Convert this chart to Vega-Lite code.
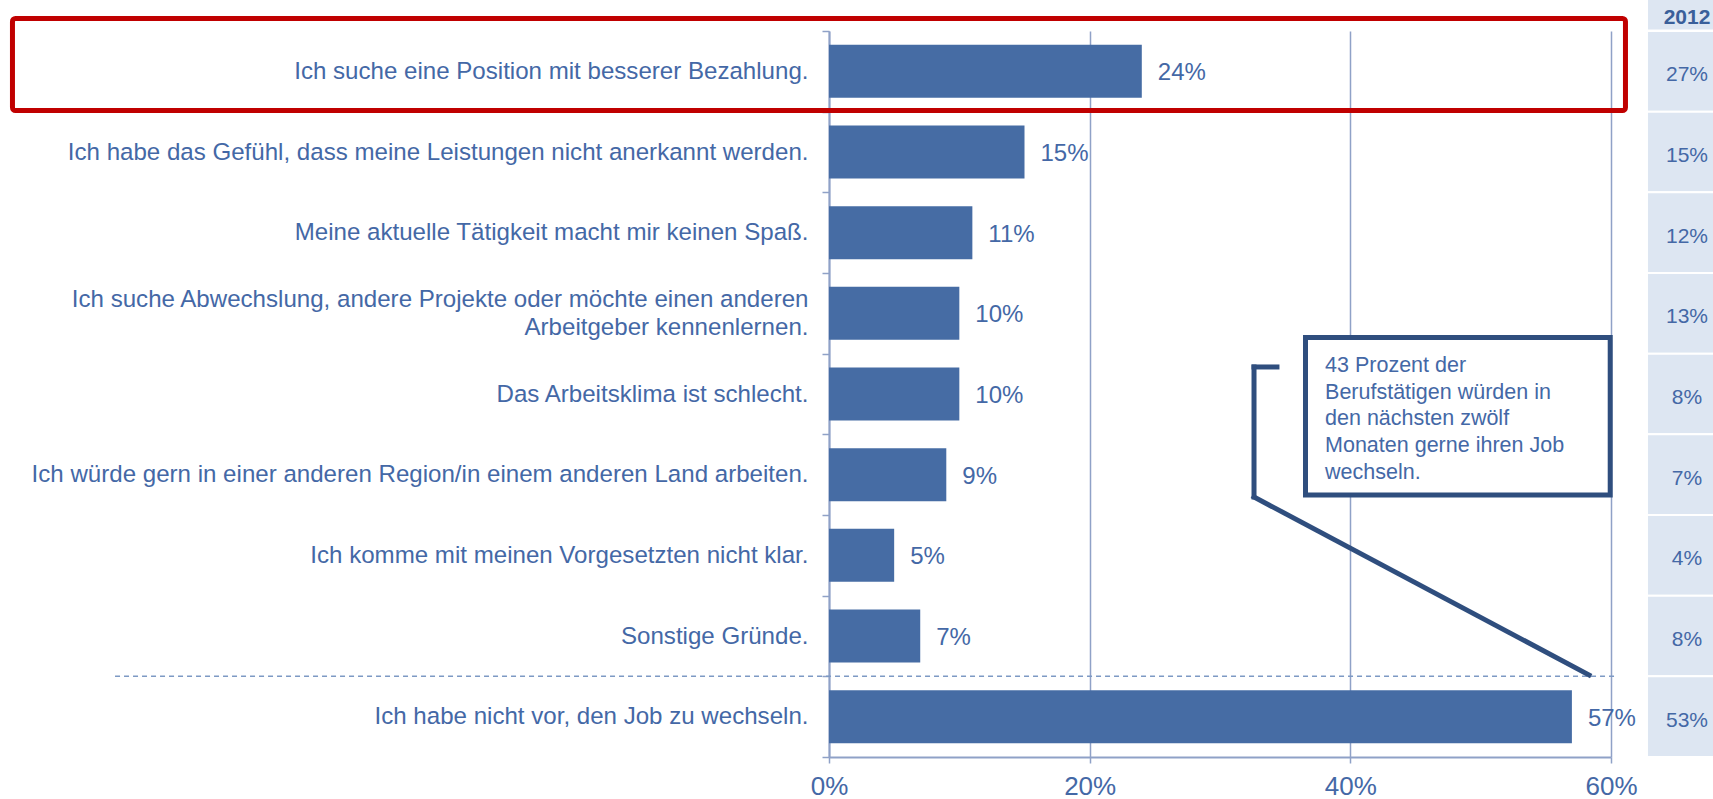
{
  "$schema": "https://vega.github.io/schema/vega-lite/v6.json",
  "width": 782,
  "height": 726,
  "autosize": {"type": "none"},
  "padding": {"left": 829, "top": 31, "right": 102, "bottom": 42},
  "background": "white",
  "config": {"view": {"stroke": null}, "font": "Liberation Sans"},
  "data": {
    "values": [
      {"reason": "Ich suche eine Position mit besserer Bezahlung.", "share": 24, "share2012": 27},
      {"reason": "Ich habe das Gefühl, dass meine Leistungen nicht anerkannt werden.", "share": 15, "share2012": 15},
      {"reason": "Meine aktuelle Tätigkeit macht mir keinen Spaß.", "share": 11, "share2012": 12},
      {"reason": "Ich suche Abwechslung, andere Projekte oder möchte einen anderen Arbeitgeber kennenlernen.", "share": 10, "share2012": 13},
      {"reason": "Das Arbeitsklima ist schlecht.", "share": 10, "share2012": 8},
      {"reason": "Ich würde gern in einer anderen Region/in einem anderen Land arbeiten.", "share": 9, "share2012": 7},
      {"reason": "Ich komme mit meinen Vorgesetzten nicht klar.", "share": 5, "share2012": 4},
      {"reason": "Sonstige Gründe.", "share": 7, "share2012": 8},
      {"reason": "Ich habe nicht vor, den Job zu wechseln.", "share": 57, "share2012": 53}
    ]
  },
  "layer": [
    {
      "encoding": {
        "y": {
          "field": "reason",
          "type": "nominal",
          "sort": null,
          "scale": {"paddingInner": 0, "paddingOuter": 0},
          "axis": {
            "title": null,
            "domainColor": "#8fa1c7",
            "domainWidth": 2,
            "ticks": true,
            "tickBand": "extent",
            "tickSize": 7,
            "tickColor": "#8fa1c7",
            "tickWidth": 1.5,
            "labelPadding": 14,
            "labelFontSize": 24.1,
            "labelColor": "#4468a6",
            "labelLimit": 1000,
            "labelLineHeight": 28,
            "labelOffset": {"condition": {"test": "isString(datum.value) && indexof(datum.value, 'Abwechslung') >= 0", "value": -14}, "value": 0},
            "labelExpr": "isString(datum.value) ? split(replace(datum.value, 'anderen Arbeitgeber', 'anderen|Arbeitgeber'), '|') : ''",
            "grid": false
          }
        }
      },
      "layer": [
        {
          "mark": {"type": "bar", "color": "#466ca4", "height": {"band": 0.657}},
          "encoding": {
            "x": {
              "field": "share",
              "type": "quantitative",
              "scale": {"domain": [0, 60], "nice": false},
              "axis": {
                "title": null,
                "values": [0, 20, 40, 60],
                "labelExpr": "datum.value + '%'",
                "labelFontSize": 26,
                "labelColor": "#4468a6",
                "labelPadding": 10,
                "labelFlush": false,
                "tickSize": 6,
                "tickColor": "#8fa1c7",
                "tickWidth": 1.5,
                "domainColor": "#8fa1c7",
                "domainWidth": 2,
                "grid": true,
                "gridColor": "#8fa1c7",
                "gridWidth": 1.5
              }
            }
          }
        },
        {
          "mark": {"type": "text", "align": "left", "baseline": "middle", "dx": 16, "dy": 2, "fontSize": 24, "color": "#4468a6", "text": {"expr": "datum.share + '%'"}},
          "encoding": {
            "x": {"field": "share", "type": "quantitative", "scale": {"domain": [0, 60], "nice": false}}
          }
        },
        {
          "mark": {"type": "rect", "color": "#dde6f2", "stroke": "white", "strokeWidth": 2, "clip": false},
          "encoding": {
            "x": {"datum": 62.76, "type": "quantitative", "scale": {"domain": [0, 60], "nice": false}},
            "x2": {"datum": 70}
          }
        },
        {
          "mark": {"type": "text", "align": "center", "baseline": "middle", "dy": 4, "fontSize": 21, "color": "#4468a6", "text": {"expr": "datum.share2012 + '%'"}},
          "encoding": {
            "x": {"datum": 65.83, "type": "quantitative", "scale": {"domain": [0, 60], "nice": false}}
          }
        }
      ]
    },
    {
      "data": {
        "values": [
          {"year": "2012", "callout": ["43 Prozent der", "Berufstätigen würden in", "den nächsten zwölf", "Monaten gerne ihren Job", "wechseln."]}
        ]
      },
      "layer": [
        {
          "mark": {"type": "rect", "color": "#dde6f2"},
          "encoding": {
            "x": {"datum": 62.84, "type": "quantitative", "scale": {"domain": [0, 60], "nice": false}},
            "x2": {"datum": 70},
            "y": {"datum": -0.4, "type": "quantitative", "scale": {"domain": [0, 9], "reverse": true, "nice": false, "zero": false}, "axis": null},
            "y2": {"datum": -0.0186}
          }
        },
        {
          "mark": {"type": "text", "align": "center", "baseline": "middle", "fontSize": 21, "fontWeight": "bold", "color": "#3a5f9a"},
          "encoding": {
            "text": {"field": "year"},
            "x": {"datum": 65.83, "type": "quantitative", "scale": {"domain": [0, 60], "nice": false}},
            "y": {"datum": -0.161, "type": "quantitative", "scale": {"domain": [0, 9], "reverse": true, "nice": false, "zero": false}, "axis": null}
          }
        },
        {
          "mark": {"type": "rule", "color": "#7d99c4", "strokeWidth": 1.5, "strokeDash": [5, 4]},
          "encoding": {
            "x": {"datum": -54.78, "type": "quantitative", "scale": {"domain": [0, 60], "nice": false}},
            "x2": {"datum": 60.54},
            "y": {"datum": 8, "type": "quantitative", "scale": {"domain": [0, 9], "reverse": true, "nice": false, "zero": false}, "axis": null}
          }
        },
        {
          "mark": {"type": "rule", "color": "#2f4e7e", "strokeWidth": 5, "strokeCap": "square"},
          "encoding": {
            "x": {"datum": 32.61, "type": "quantitative", "scale": {"domain": [0, 60], "nice": false}},
            "x2": {"datum": 34.37},
            "y": {"datum": 4.165, "type": "quantitative", "scale": {"domain": [0, 9], "reverse": true, "nice": false, "zero": false}, "axis": null},
            "y2": {"datum": 4.165}
          }
        },
        {
          "mark": {"type": "rule", "color": "#2f4e7e", "strokeWidth": 5, "strokeCap": "square"},
          "encoding": {
            "x": {"datum": 32.61, "type": "quantitative", "scale": {"domain": [0, 60], "nice": false}},
            "x2": {"datum": 32.61},
            "y": {"datum": 4.165, "type": "quantitative", "scale": {"domain": [0, 9], "reverse": true, "nice": false, "zero": false}, "axis": null},
            "y2": {"datum": 5.777}
          }
        },
        {
          "mark": {"type": "rule", "color": "#2f4e7e", "strokeWidth": 5, "strokeCap": "square"},
          "encoding": {
            "x": {"datum": 32.61, "type": "quantitative", "scale": {"domain": [0, 60], "nice": false}},
            "x2": {"datum": 58.31},
            "y": {"datum": 5.777, "type": "quantitative", "scale": {"domain": [0, 9], "reverse": true, "nice": false, "zero": false}, "axis": null},
            "y2": {"datum": 7.983}
          }
        },
        {
          "mark": {"type": "rect", "fill": "white", "stroke": "#2f4e7e", "strokeWidth": 5},
          "encoding": {
            "x": {"datum": 36.56, "type": "quantitative", "scale": {"domain": [0, 60], "nice": false}},
            "x2": {"datum": 59.94},
            "y": {"datum": 3.799, "type": "quantitative", "scale": {"domain": [0, 9], "reverse": true, "nice": false, "zero": false}, "axis": null},
            "y2": {"datum": 5.752}
          }
        },
        {
          "mark": {"type": "text", "align": "left", "baseline": "middle", "fontSize": 21.5, "lineHeight": 26.7, "color": "#4468a6"},
          "encoding": {
            "text": {"field": "callout"},
            "x": {"datum": 38.06, "type": "quantitative", "scale": {"domain": [0, 60], "nice": false}},
            "y": {"datum": 4.153, "type": "quantitative", "scale": {"domain": [0, 9], "reverse": true, "nice": false, "zero": false}, "axis": null}
          }
        },
        {
          "mark": {"type": "rect", "fillOpacity": 0, "stroke": "#c00000", "strokeWidth": 5, "cornerRadius": 3},
          "encoding": {
            "x": {"datum": -62.65, "type": "quantitative", "scale": {"domain": [0, 60], "nice": false}},
            "x2": {"datum": 61.11},
            "y": {"datum": -0.155, "type": "quantitative", "scale": {"domain": [0, 9], "reverse": true, "nice": false, "zero": false}, "axis": null},
            "y2": {"datum": 0.9855}
          }
        }
      ]
    }
  ],
  "resolve": {"scale": {"y": "independent"}}
}
